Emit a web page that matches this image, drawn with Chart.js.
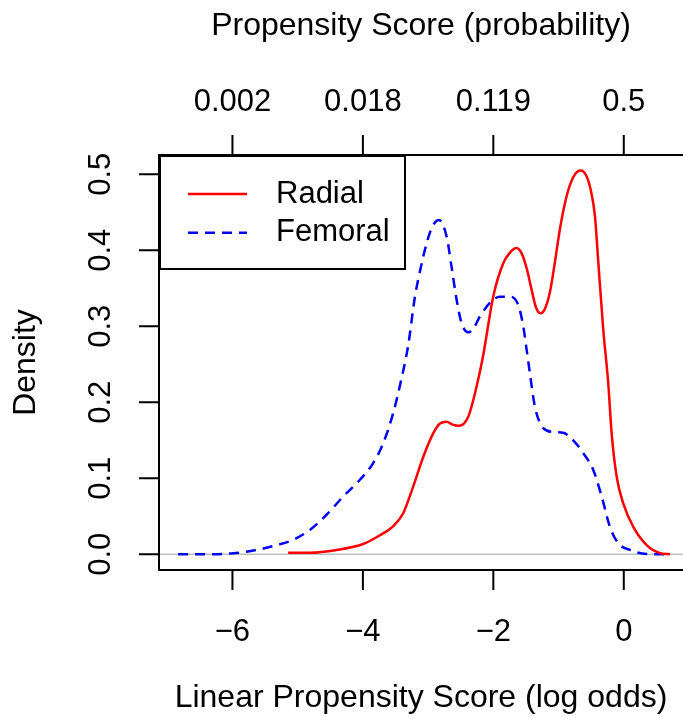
<!DOCTYPE html>
<html>
<head>
<meta charset="utf-8">
<script src="https://cdn.jsdelivr.net/npm/chart.js@4.4.1/dist/chart.umd.min.js"></script>
<style>
  html, body { margin: 0; padding: 0; background: #fff; overflow: hidden; }
  canvas { display: block; }
</style>
</head>
<body>
<canvas id="densityChart" width="683" height="726"></canvas>
<script>
// density of the linear propensity score, by access site
var radialX = [-5.146, -4.813, -4.403, -3.995, -3.739, -3.535, -3.382, -3.229, -3.075, -2.922,
               -2.819, -2.716, -2.635, -2.528, -2.385, -2.256, -2.155, -2.002, -1.848, -1.745,
               -1.643, -1.561, -1.485, -1.413, -1.347, -1.275, -1.209, -1.132, -1.055, -0.979,
               -0.902, -0.825, -0.748, -0.661, -0.580, -0.503, -0.442, -0.391, -0.314, -0.238,
               -0.186, -0.109, -0.008, 0.146, 0.351, 0.555, 0.709];
var radialY = [0.002, 0.002, 0.0057, 0.0135, 0.025, 0.037, 0.054, 0.089, 0.128, 0.159,
               0.172, 0.1745, 0.171, 0.169, 0.181, 0.221, 0.262, 0.339, 0.383, 0.397,
               0.403, 0.395, 0.375, 0.348, 0.325, 0.317, 0.323, 0.345, 0.385, 0.428,
               0.462, 0.486, 0.500, 0.505, 0.499, 0.478, 0.445, 0.385, 0.295, 0.225,
               0.159, 0.102, 0.067, 0.036, 0.012, 0.0015, 0.000];

var femoralX = [-6.833, -6.347, -5.989, -5.630, -5.324, -5.069, -4.813, -4.557, -4.302, -4.046,
                -3.842, -3.689, -3.535, -3.406, -3.305, -3.202, -3.126, -3.023, -2.942, -2.834,
                -2.716, -2.640, -2.563, -2.486, -2.385, -2.298, -2.206, -2.002, -1.899, -1.745,
                -1.618, -1.541, -1.489, -1.439, -1.362, -1.235, -1.081, -0.928, -0.775, -0.621,
                -0.468, -0.339, -0.212, -0.084, 0.095, 0.351, 0.617];
var femoralY = [0.000, 0.000, 0.0013, 0.0057, 0.012, 0.019, 0.032, 0.052, 0.076, 0.098,
                0.120, 0.146, 0.186, 0.232, 0.275, 0.339, 0.372, 0.409, 0.430, 0.440,
                0.418, 0.378, 0.335, 0.304, 0.292, 0.298, 0.313, 0.335, 0.339, 0.339,
                0.328, 0.300, 0.269, 0.238, 0.194, 0.166, 0.161, 0.160, 0.150, 0.133,
                0.111, 0.076, 0.036, 0.0145, 0.0057, 0.0004, 0.000];

var xTickValues = [-6, -4, -2, 0];
var xTickLabels = ['\u22126', '\u22124', '\u22122', '0'];
var probTickLabels = ['0.002', '0.018', '0.119', '0.5'];
var yTickValues = [0, 0.1, 0.2, 0.3, 0.4, 0.5];
var yTickLabels = ['0.0', '0.1', '0.2', '0.3', '0.4', '0.5'];

function toPoints(xs, ys) {
  return xs.map(function (x, i) { return { x: x, y: ys[i] }; });
}

Chart.defaults.font.family = "'Liberation Sans', Arial, sans-serif";
Chart.defaults.font.size = 31;
Chart.defaults.color = '#000';

// R style box, tick marks, grey zero line and legend
var rFrame = {
  id: 'rFrame',
  beforeDatasetsDraw: function (chart) {
    var ctx = chart.ctx, a = chart.chartArea;
    var y0 = chart.scales.y.getPixelForValue(0);
    ctx.save();
    ctx.strokeStyle = '#bebebe';
    ctx.lineWidth = 1.5;
    ctx.beginPath();
    ctx.moveTo(a.left, y0);
    ctx.lineTo(a.right, y0);
    ctx.stroke();
    ctx.restore();
  },
  afterDraw: function (chart) {
    var ctx = chart.ctx, a = chart.chartArea;
    var xs = chart.scales.x, ys = chart.scales.y;
    ctx.save();
    ctx.strokeStyle = '#000';
    ctx.lineWidth = 2;
    ctx.beginPath();
    ctx.moveTo(a.right + 5, a.top);
    ctx.lineTo(a.left, a.top);
    ctx.lineTo(a.left, a.bottom);
    ctx.lineTo(a.right + 5, a.bottom);
    xTickValues.forEach(function (v) {
      var px = xs.getPixelForValue(v);
      ctx.moveTo(px, a.bottom);
      ctx.lineTo(px, a.bottom + 20);
      ctx.moveTo(px, a.top);
      ctx.lineTo(px, a.top - 20);
    });
    yTickValues.forEach(function (v) {
      var py = ys.getPixelForValue(v);
      ctx.moveTo(a.left, py);
      ctx.lineTo(a.left - 20, py);
    });
    ctx.stroke();

    // legend box, top left of the plot
    var lx = a.left + 1, ly = a.top + 1;
    ctx.fillStyle = '#fff';
    ctx.fillRect(lx, ly, 245, 113);
    ctx.strokeRect(lx, ly, 245, 113);
    ctx.font = '31px ' + Chart.defaults.font.family;
    ctx.textBaseline = 'middle';
    ctx.textAlign = 'left';
    chart.data.datasets.forEach(function (ds, i) {
      var yy = ly + 38 + i * 38.7;
      ctx.strokeStyle = ds.borderColor;
      ctx.lineWidth = ds.borderWidth;
      ctx.setLineDash(ds.borderDash || []);
      ctx.beginPath();
      ctx.moveTo(lx + 28, yy);
      ctx.lineTo(lx + 87, yy);
      ctx.stroke();
      ctx.setLineDash([]);
      ctx.fillStyle = '#000';
      ctx.fillText(ds.label, lx + 116, yy);
    });
    ctx.restore();
  }
};

new Chart(document.getElementById('densityChart'), {
  type: 'line',
  data: {
    datasets: [{
      label: 'Radial',
      data: toPoints(radialX, radialY),
      borderColor: '#ff0000',
      borderWidth: 2.5,
      pointRadius: 0,
      cubicInterpolationMode: 'monotone',
      fill: false
    },
    {
      label: 'Femoral',
      data: toPoints(femoralX, femoralY),
      borderColor: '#0000ff',
      borderWidth: 2.5,
      borderDash: [10, 7],
      pointRadius: 0,
      cubicInterpolationMode: 'monotone',
      fill: false
    }]
  },
  options: {
    responsive: false,
    animation: false,
    devicePixelRatio: 1,
    layout: { padding: 0 },
    plugins: {
      legend: { display: false },
      tooltip: { enabled: false }
    },
    scales: {
      x: {
        type: 'linear',
        position: 'bottom',
        min: -7.126,
        max: 0.908,
        grid: { display: false, drawTicks: false },
        border: { display: false },
        afterBuildTicks: function (s) { s.ticks = xTickValues.map(function (v) { return { value: v }; }); },
        afterFit: function (s) { s.height = 156; s.paddingLeft = 0; s.paddingRight = 0; },
        ticks: {
          autoSkip: false, minRotation: 0, maxRotation: 0, padding: 44,
          callback: function (v, i) { return xTickLabels[i]; }
        },
        title: { display: true, text: 'Linear Propensity Score (log odds)', font: { size: 32 }, padding: { top: 0, bottom: 9 } }
      },
      xTop: {
        type: 'linear',
        position: 'top',
        display: true,
        min: -7.126,
        max: 0.908,
        grid: { display: false, drawTicks: false },
        border: { display: false },
        afterBuildTicks: function (s) { s.ticks = xTickValues.map(function (v) { return { value: v }; }); },
        afterFit: function (s) { s.height = 155; s.paddingLeft = 0; s.paddingRight = 0; },
        ticks: {
          autoSkip: false, minRotation: 0, maxRotation: 0, padding: 34,
          callback: function (v, i) { return probTickLabels[i]; }
        },
        title: { display: true, text: 'Propensity Score (probability)', font: { size: 32 }, padding: { top: 7, bottom: 0 } }
      },
      y: {
        type: 'linear',
        position: 'left',
        min: -0.0207,
        max: 0.5254,
        grid: { display: false, drawTicks: false },
        border: { display: false },
        afterBuildTicks: function (s) { s.ticks = yTickValues.map(function (v) { return { value: v }; }); },
        afterFit: function (s) { s.width = 159; s.paddingTop = 0; s.paddingBottom = 0; },
        ticks: {
          autoSkip: false, minRotation: 90, maxRotation: 90, crossAlign: 'center', padding: 36,
          callback: function (v, i) { return yTickLabels[i]; }
        },
        title: { display: true, text: 'Density', font: { size: 32 }, padding: { top: 7, bottom: 0 } }
      }
    }
  },
  plugins: [rFrame]
});
</script>
</body>
</html>
